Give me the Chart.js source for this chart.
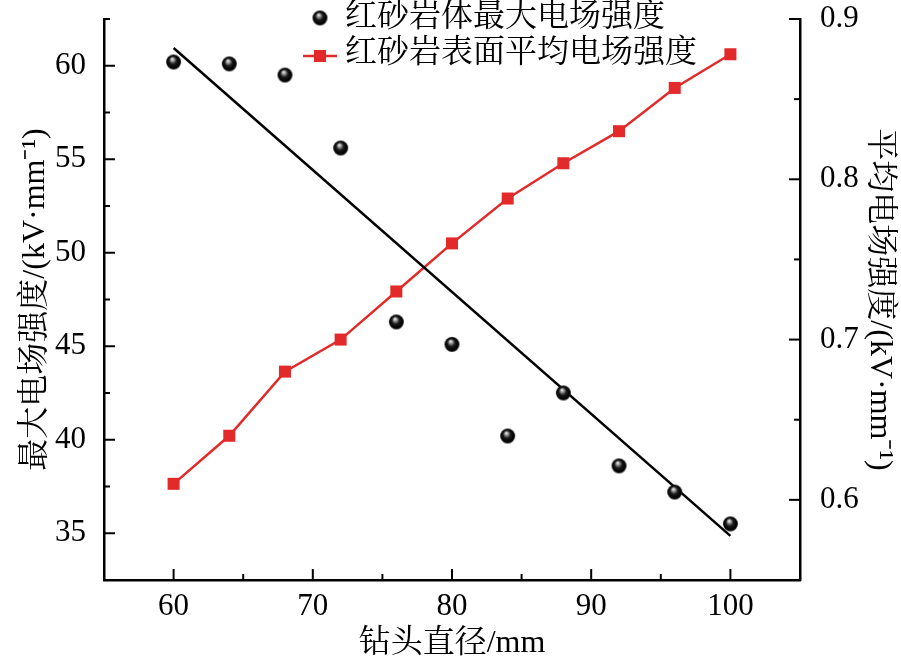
<!DOCTYPE html>
<html>
<head>
<meta charset="utf-8">
<script src="https://cdn.jsdelivr.net/npm/chart.js@4.4.1/dist/chart.umd.min.js"></script>
<style>
  html, body { margin: 0; padding: 0; background: #fff; }
  #wrap { width: 901px; height: 664px; }
</style>
</head>
<body>
<div id="wrap"><canvas id="chart" width="901" height="664"></canvas></div>
<script>
// data
const diameters = [60, 64, 68, 72, 76, 80, 84, 88, 92, 96, 100];
const maxField = [60.2, 60.1, 59.5, 55.6, 46.3, 45.1, 40.2, 42.5, 38.6, 37.2, 35.5];
const avgField = [0.61, 0.64, 0.68, 0.70, 0.73, 0.76, 0.788, 0.81, 0.83, 0.857, 0.878];
const fitX = [60, 100];
const fitY = [60.95, 34.86];

const xTickLabels = [60, 70, 80, 90, 100];
const leftTickLabels = [35, 40, 45, 50, 55, 60];
const rightTickLabels = [0.6, 0.7, 0.8, 0.9];

const seriesNames = ["红砂岩体最大电场强度", "红砂岩表面平均电场强度"];

const RED = "#e32a2a";
const FAMILY = '"Liberation Serif", "Noto Serif CJK SC", "Noto Sans CJK SC", serif';
const tickFont = { family: FAMILY, size: 31 };
const titleFont = { family: FAMILY, size: 32 };

const has = (list, v) => list.some(t => Math.abs(t - v) < 1e-6);

// shaded black ball like the origin marker
function makeSphere(r) {
  const c = document.createElement("canvas");
  const d = Math.ceil(r * 2) + 2;
  c.width = d; c.height = d;
  const g = c.getContext("2d");
  const m = d / 2;
  const grad = g.createRadialGradient(m - r * 0.2, m - r * 0.45, 0, m, m, r);
  grad.addColorStop(0, "#ffffff");
  grad.addColorStop(0.18, "#b5b5b5");
  grad.addColorStop(0.5, "#1c1c1c");
  grad.addColorStop(0.85, "#000000");
  grad.addColorStop(1, "#2a2a2a");
  g.fillStyle = grad;
  g.beginPath();
  g.arc(m, m, r, 0, Math.PI * 2);
  g.fill();
  return c;
}
const sphere = makeSphere(7.5);

// ticks pointing into the plot, long for labelled values, short between
const inwardTicks = {
  id: "inwardTicks",
  afterDatasetsDraw(chart) {
    const { ctx, chartArea: a, scales } = chart;
    ctx.save();
    ctx.strokeStyle = "#000";
    ctx.lineWidth = 2;
    const line = (x1, y1, x2, y2) => {
      ctx.beginPath(); ctx.moveTo(x1, y1); ctx.lineTo(x2, y2); ctx.stroke();
    };
    scales.x.ticks.forEach(t => {
      const px = scales.x.getPixelForValue(t.value);
      line(px, a.bottom, px, a.bottom - (has(xTickLabels, t.value) ? 11 : 6));
    });
    scales.y.ticks.forEach(t => {
      const py = scales.y.getPixelForValue(t.value);
      line(a.left, py, a.left + (has(leftTickLabels, t.value) ? 11 : 6), py);
    });
    scales.y2.ticks.forEach(t => {
      const py = scales.y2.getPixelForValue(t.value);
      line(a.right, py, a.right - (has(rightTickLabels, t.value) ? 11 : 6), py);
    });
    ctx.restore();
  }
};

// legend drawn over the top of the plot
const topLegend = {
  id: "topLegend",
  afterDraw(chart) {
    const ctx = chart.ctx;
    ctx.save();
    ctx.drawImage(sphere, 320 - sphere.width / 2, 18 - sphere.height / 2);
    ctx.strokeStyle = RED;
    ctx.lineWidth = 2.5;
    ctx.beginPath(); ctx.moveTo(303, 56); ctx.lineTo(337, 56); ctx.stroke();
    ctx.fillStyle = RED;
    ctx.fillRect(314, 50, 12, 12);
    ctx.fillStyle = "#000";
    ctx.font = "32px " + FAMILY;
    ctx.textBaseline = "middle";
    ctx.textAlign = "left";
    ctx.fillText(seriesNames[0], 345, 18);
    ctx.fillText(seriesNames[1], 345, 54);
    ctx.restore();
  }
};

// fixed axis boxes so the plot sits where it does in the figure
const fitVertical = w => s => { s.width = w; s.paddingTop = 0; s.paddingBottom = 0; };

new Chart(document.getElementById("chart"), {
  type: "scatter",
  data: {
    datasets: [
      {
        label: seriesNames[0],
        data: diameters.map((d, i) => ({ x: d, y: maxField[i] })),
        yAxisID: "y",
        pointStyle: sphere,
        pointRadius: 7.5,
        showLine: false,
        order: 0
      },
      {
        label: "fit",
        data: fitX.map((d, i) => ({ x: d, y: fitY[i] })),
        yAxisID: "y",
        showLine: true,
        borderColor: "#000",
        borderWidth: 2.5,
        pointRadius: 0,
        order: 1
      },
      {
        label: seriesNames[1],
        data: diameters.map((d, i) => ({ x: d, y: avgField[i] })),
        yAxisID: "y2",
        showLine: true,
        borderColor: RED,
        borderWidth: 2.5,
        pointStyle: "rect",
        pointRadius: 8.5,
        pointBackgroundColor: RED,
        pointBorderWidth: 0,
        order: 2
      }
    ]
  },
  options: {
    responsive: false,
    animation: false,
    devicePixelRatio: 1,
    layout: { padding: { top: 19, left: 0, right: 0, bottom: 0 } },
    plugins: { legend: { display: false }, tooltip: { enabled: false } },
    scales: {
      x: {
        type: "linear",
        position: "bottom",
        min: 55,
        max: 105,
        grid: { display: false },
        border: { display: true, color: "#000", width: 2.5 },
        ticks: {
          stepSize: 5,
          autoSkip: false,
          maxRotation: 0,
          padding: 0,
          color: "#000",
          font: tickFont,
          callback: v => (has(xTickLabels, v) ? String(v) : "")
        },
        title: { display: true, text: "钻头直径/mm", color: "#000", font: titleFont, padding: { top: 0, bottom: 1 } },
        afterFit: s => { s.height = 84; s.paddingLeft = 0; s.paddingRight = 0; }
      },
      y: {
        type: "linear",
        position: "left",
        min: 32.5,
        max: 62.5,
        grid: { display: false },
        border: { display: true, color: "#000", width: 2.5 },
        ticks: {
          stepSize: 2.5,
          autoSkip: false,
          padding: 10,
          color: "#000",
          font: tickFont,
          callback: v => (has(leftTickLabels, v) ? String(v) : "")
        },
        title: { display: true, text: "最大电场强度/(kV·mm⁻¹)", color: "#000", font: titleFont, padding: { top: 16, bottom: 0 } },
        afterFit: fitVertical(104)
      },
      y2: {
        type: "linear",
        position: "right",
        min: 0.55,
        max: 0.9,
        grid: { display: false },
        border: { display: true, color: "#000", width: 2.5 },
        ticks: {
          stepSize: 0.05,
          autoSkip: false,
          padding: 12,
          color: "#000",
          font: tickFont,
          callback: v => (has(rightTickLabels, v) ? v.toFixed(1) : "")
        },
        title: { display: true, text: "平均电场强度/(kV·mm⁻¹)", color: "#000", font: titleFont, padding: { top: 2, bottom: 0 } },
        afterFit: fitVertical(101)
      }
    }
  },
  plugins: [inwardTicks, topLegend]
});
</script>
</body>
</html>
